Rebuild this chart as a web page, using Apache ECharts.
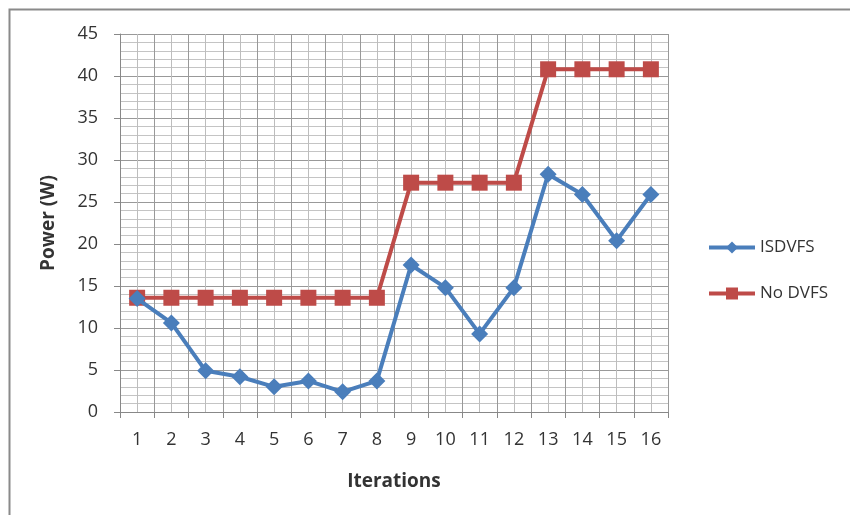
<!DOCTYPE html>
<html><head><meta charset="utf-8">
<script src="https://cdn.jsdelivr.net/npm/echarts@6/dist/echarts.min.js"></script>
<style>html,body{margin:0;padding:0;background:#fff}#c{width:850px;height:515px}</style>
</head><body><div id="c"></div>
<script>
const categories = ['1','2','3','4','5','6','7','8','9','10','11','12','13','14','15','16'];
const isdvfs = [13.5,10.6,4.9,4.2,3.0,3.7,2.4,3.7,17.5,14.8,9.3,14.8,28.3,25.9,20.4,25.9];
const noDvfs = [13.6,13.6,13.6,13.6,13.6,13.6,13.6,13.6,27.3,27.3,27.3,27.3,40.8,40.8,40.8,40.8];
const yTicks = [0,5,10,15,20,25,30,35,40,45];

const FONT = "'Open Sans', 'Liberation Sans', sans-serif";
const chart = echarts.init(document.getElementById('c'), null, {renderer:'canvas'});
chart.setOption({
  backgroundColor:'#fff',
  animation:false,
  graphic:[{type:'rect',left:7,top:7,shape:{width:900,height:600},style:{fill:'none',stroke:'#8a8a8a',lineWidth:2},z:-1}],
  grid:{left:120,top:34,right:182,bottom:103},
  legend:{
    orient:'vertical',left:702,top:234,itemWidth:46,itemHeight:15,itemGap:29,
    itemStyle:{borderWidth:0},
    textStyle:{fontFamily:FONT,fontSize:17,color:'#333'},
    lineStyle:{width:4},
    data:['ISDVFS','No DVFS']
  },
  xAxis:[{
    type:'category',data:categories,boundaryGap:true,
    name:'Iterations',nameLocation:'middle',nameGap:60,
    nameTextStyle:{fontFamily:FONT,fontSize:19,fontWeight:'bold',color:'#333'},
    axisLine:{lineStyle:{color:'#888',width:1}},
    axisTick:{show:true,length:6,lineStyle:{color:'#888'}},
    axisLabel:{fontFamily:FONT,fontSize:18,color:'#333',margin:19},
    splitLine:{show:true,lineStyle:{color:'#999',width:1}}
  },{
    type:'value',min:0.5,max:16.5,interval:1,position:'bottom',
    axisLine:{show:false},axisTick:{show:false},axisLabel:{show:false},
    splitLine:{show:false},
    minorTick:{show:false,splitNumber:2},
    minorSplitLine:{show:true,lineStyle:{color:'#bdbdbd',width:1}}
  }],
  yAxis:{
    type:'value',min:yTicks[0],max:yTicks[yTicks.length-1],interval:5,
    name:'Power (W)',nameLocation:'middle',nameGap:62,
    nameTextStyle:{fontFamily:FONT,fontSize:19,fontWeight:'bold',color:'#333'},
    axisLine:{show:true,lineStyle:{color:'#888'}},
    axisTick:{show:true,length:6,lineStyle:{color:'#888'}},
    axisLabel:{fontFamily:FONT,fontSize:18,color:'#333',margin:22},
    splitLine:{show:true,lineStyle:{color:'#999',width:1}},
    minorTick:{show:false,splitNumber:5},
    minorSplitLine:{show:true,lineStyle:{color:'#c4c4c4',width:1}}
  },
  series:[{
    name:'ISDVFS',type:'line',data:isdvfs,xAxisIndex:0,
    symbol:'diamond',symbolSize:17,
    lineStyle:{color:'#4A7EBB',width:4},
    itemStyle:{color:'#4A7EBB'},z:3
  },{
    name:'No DVFS',type:'line',data:noDvfs,xAxisIndex:0,
    symbol:'rect',symbolSize:16,
    lineStyle:{color:'#BE4B48',width:4},
    itemStyle:{color:'#BE4B48'},z:2
  }]
});
</script></body></html>
